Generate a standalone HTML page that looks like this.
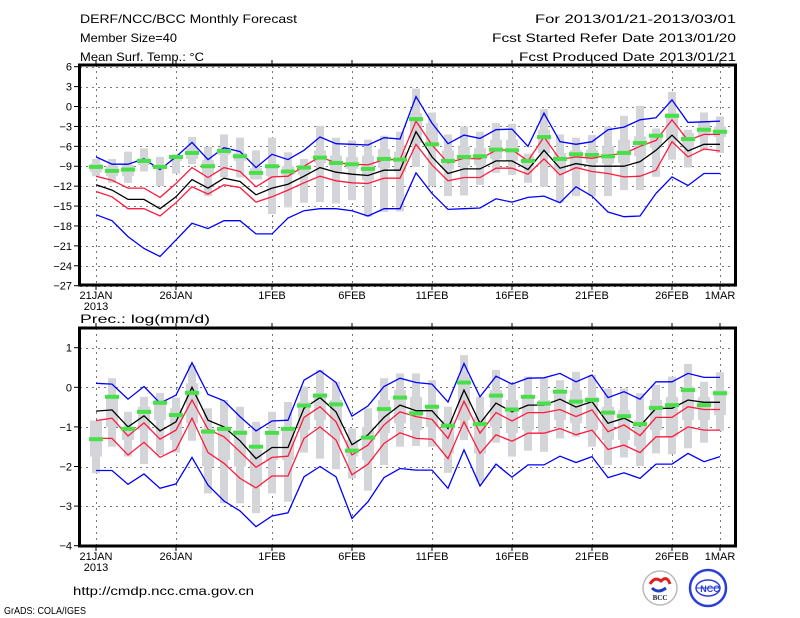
<!DOCTYPE html>
<html><head><meta charset="utf-8">
<style>
html,body{margin:0;padding:0;background:#fff;}
svg{display:block;font-family:"Liberation Sans",sans-serif;}
</style></head>
<body>
<svg id="chart" width="800" height="618" viewBox="0 0 800 618" xmlns="http://www.w3.org/2000/svg">
  <g id="header" font-size="12" fill="#000">
    <text x="80" y="23" textLength="217" lengthAdjust="spacingAndGlyphs">DERF/NCC/BCC Monthly Forecast</text>
    <text x="80" y="42" textLength="97" lengthAdjust="spacingAndGlyphs">Member Size=40</text>
    <text x="80" y="61" textLength="124" lengthAdjust="spacingAndGlyphs">Mean Surf. Temp.: °C</text>
    <text x="535" y="23" textLength="201" lengthAdjust="spacingAndGlyphs">For 2013/01/21-2013/03/01</text>
    <text x="492" y="42" textLength="244" lengthAdjust="spacingAndGlyphs">Fcst Started Refer Date 2013/01/20</text>
    <text x="519" y="61" textLength="217" lengthAdjust="spacingAndGlyphs">Fcst Produced Date 2013/01/21</text>
    <text x="80" y="323" textLength="130" lengthAdjust="spacingAndGlyphs">Prec.: log(mm/d)</text>
    <text x="73" y="595" textLength="181" lengthAdjust="spacingAndGlyphs">http://cmdp.ncc.cma.gov.cn</text>
    <text x="4" y="614" font-size="10" textLength="82" lengthAdjust="spacingAndGlyphs">GrADS: COLA/IGES</text>
  </g>
  <g id="panels"></g>
  <g id="logos">
    <g>
      <circle cx="660" cy="588" r="17" fill="#fff" stroke="#bbb" stroke-width="1.5"/>
      <path d="M650 584 q5 -8 11 -3 q6 -6 9 3" fill="none" stroke="#e02020" stroke-width="3"/>
      <path d="M652 588 q6 6 14 0" fill="none" stroke="#2040c0" stroke-width="3"/>
      <text x="660" y="600" font-size="7" text-anchor="middle" font-family="Liberation Serif,serif" font-weight="bold" fill="#223">BCC</text>
    </g>
    <g>
      <circle cx="708" cy="588" r="18" fill="#fff" stroke="#2a3ed8" stroke-width="2.5"/>
      <ellipse cx="708" cy="588" rx="12" ry="8" fill="none" stroke="#2a3ed8" stroke-width="1.5"/>
      <line x1="696" y1="588" x2="720" y2="588" stroke="#2a3ed8"/>
      <text x="710" y="592" font-size="9" text-anchor="middle" font-weight="bold" fill="#2a3ed8">NCC</text>
    </g>
  </g>
</svg>
<script>
// ---------- shared x data ----------
const dayLabels = ["21JAN","26JAN","1FEB","6FEB","11FEB","16FEB","21FEB","26FEB","1MAR"];
const dayLabelIdx = [0,5,11,16,21,26,31,36,39];

// ---------- temperature panel data ----------
const tempTicks = [6,3,0,-3,-6,-9,-12,-15,-18,-21,-24,-27];
const tempMax = [-7.6,-8.7,-8.7,-7.9,-9.5,-7.6,-5.4,-8.0,-6.2,-6.8,-9.2,-7.2,-8.0,-6.6,-4.6,-5.6,-5.7,-5.8,-4.7,-4.9,1.5,-2.5,-5.6,-4.3,-4.8,-3.5,-3.4,-6.0,-1.0,-5.3,-5.7,-5.3,-3.5,-3.1,-2.0,-1.7,1.0,-2.4,-2.3,-2.2];
const tempUpper = [-10.5,-11.1,-12.3,-12.3,-13.7,-11.6,-9.2,-10.7,-9.2,-9.8,-12.1,-10.6,-10.5,-9.0,-7.6,-8.5,-8.7,-8.8,-8.0,-8.0,-2.2,-5.8,-8.5,-7.8,-7.9,-6.6,-6.5,-8.2,-4.6,-8.0,-7.6,-7.8,-7.3,-7.1,-6.0,-5.1,-2.0,-5.1,-4.2,-4.2];
const tempMean = [-11.8,-12.6,-14.0,-14.0,-15.4,-13.6,-11.0,-12.3,-10.8,-11.3,-13.3,-12.3,-11.7,-10.5,-9.2,-9.9,-10.2,-10.4,-9.6,-9.6,-3.8,-7.6,-10.1,-9.4,-9.4,-8.2,-8.2,-9.5,-6.6,-9.3,-8.6,-9.0,-9.0,-9.0,-8.3,-6.6,-4.3,-6.7,-5.7,-5.7];
const tempLower = [-12.8,-13.6,-15.4,-15.4,-16.5,-14.5,-12.1,-13.2,-11.8,-12.2,-14.4,-13.6,-12.6,-11.5,-10.5,-11.2,-11.5,-11.6,-10.8,-10.8,-5.7,-8.8,-11.2,-10.7,-10.7,-9.3,-9.3,-10.2,-7.9,-10.3,-9.2,-9.8,-10.1,-10.6,-10.5,-9.6,-5.3,-7.6,-6.4,-6.7];
const tempMin = [-16.3,-17.2,-19.6,-21.4,-22.6,-20.1,-17.6,-18.4,-17.2,-17.2,-19.2,-19.2,-16.8,-15.7,-15.4,-15.4,-15.7,-16.5,-15.4,-15.4,-10.0,-13.1,-15.5,-15.4,-15.3,-13.9,-14.4,-13.7,-13.5,-14.5,-12.1,-13.5,-15.9,-16.6,-16.5,-13.1,-10.6,-11.9,-10.1,-10.1];
const tempObs = [-9.1,-9.7,-9.5,-8.2,-9.1,-7.6,-7.0,-9.0,-6.7,-7.5,-10.0,-9.0,-9.8,-9.2,-7.7,-8.5,-8.7,-9.4,-7.9,-8.0,-1.9,-5.7,-8.2,-7.6,-7.5,-6.5,-6.6,-8.2,-4.6,-7.9,-7.2,-7.3,-7.5,-7.0,-5.5,-4.4,-1.4,-4.9,-3.5,-3.8];
const tempWhiskHi = [-7.9,-7.9,-6.8,-6.3,-7.6,-7.2,-4.6,-6.1,-4.2,-4.7,-6.6,-4.7,-6.9,-7.9,-2.9,-4.7,-5.1,-5.0,-4.4,-3.8,2.7,-0.9,-4.2,-3.0,-3.8,-2.5,-2.6,-7.1,-0.4,-4.2,-4.7,-4.3,-3.0,-1.4,0.1,-3.3,2.2,-3.5,-0.9,-1.5];
const tempWhiskLo = [-10.5,-11.5,-11.5,-9.8,-12.0,-10.1,-8.7,-13.5,-10.7,-10.7,-10.3,-16.2,-15.2,-14.5,-14.4,-14.6,-14.1,-16.6,-15.9,-15.8,-9.1,-12.0,-13.5,-13.4,-11.8,-10.0,-10.3,-11.5,-12.1,-14.5,-13.5,-13.5,-13.5,-12.6,-12.6,-10.6,-8.0,-9.2,-6.6,-7.0];
const tempBoxHi = [-8.6,-9.0,-8.8,-7.8,-8.8,-7.5,-6.3,-8.1,-6.2,-7.0,-9.3,-8.8,-9.0,-8.8,-6.6,-7.4,-7.6,-7.4,-6.4,-6.8,-1.0,-2.5,-6.6,-6.0,-6.3,-5.0,-5.0,-7.5,-3.5,-7.0,-6.6,-6.5,-6.0,-5.0,-4.5,-4.5,-1.0,-4.0,-2.3,-3.0];
const tempBoxLo = [-9.9,-10.5,-10.5,-8.8,-9.4,-8.2,-7.9,-10.3,-7.3,-8.2,-11.0,-10.5,-10.3,-10.3,-8.5,-9.8,-9.4,-11.1,-9.3,-9.8,-5.5,-6.0,-9.5,-8.9,-8.8,-7.9,-8.2,-9.1,-7.0,-9.8,-9.5,-8.5,-8.6,-8.5,-7.5,-6.2,-5.0,-6.2,-4.5,-4.6];

// ---------- precipitation panel data ----------
const precTicks = [1,0,-1,-2,-3,-4];
const precMax = [0.1,0.08,-0.3,0.02,-0.4,-0.2,0.62,-0.18,-0.34,-0.74,-1.1,-0.85,-0.83,0.18,0.42,0.12,-0.73,-0.47,0.02,0.23,0.12,0.08,-0.37,0.6,-0.24,0.28,0.08,0.23,0.24,0.35,0.14,0.31,-0.26,-0.11,-0.3,0.14,0.14,0.35,0.25,0.25];
const precUpper = [-0.84,-0.78,-1.23,-0.9,-1.31,-1.08,-0.32,-1.06,-1.25,-1.63,-2.02,-1.77,-1.74,-0.76,-0.49,-0.87,-1.71,-1.46,-0.95,-0.62,-0.74,-0.81,-1.29,-0.35,-1.16,-0.64,-0.85,-0.64,-0.64,-0.56,-0.74,-0.57,-1.12,-0.95,-1.22,-0.76,-0.76,-0.49,-0.56,-0.56];
const precMean = [-0.6,-0.57,-1.0,-0.72,-1.1,-0.87,0.0,-0.83,-1.0,-1.35,-1.8,-1.52,-1.52,-0.53,-0.26,-0.62,-1.45,-1.2,-0.76,-0.45,-0.59,-0.59,-1.04,-0.07,-0.91,-0.4,-0.62,-0.45,-0.45,-0.3,-0.5,-0.36,-0.91,-0.78,-0.98,-0.53,-0.53,-0.32,-0.38,-0.38];
const precLower = [-1.29,-1.29,-1.71,-1.39,-1.77,-1.57,-0.78,-1.65,-1.92,-2.3,-2.54,-2.24,-2.24,-1.29,-1.0,-1.33,-2.21,-1.94,-1.42,-1.15,-1.29,-1.31,-1.8,-0.87,-1.67,-1.2,-1.36,-1.16,-1.16,-1.04,-1.2,-1.08,-1.57,-1.46,-1.65,-1.25,-1.25,-1.0,-1.08,-1.08];
const precMin = [-2.1,-2.1,-2.45,-2.19,-2.55,-2.44,-1.77,-2.47,-2.87,-3.12,-3.52,-3.25,-3.17,-2.26,-2.0,-2.26,-3.31,-2.89,-2.28,-2.05,-2.09,-2.09,-2.55,-1.58,-2.49,-1.94,-2.27,-1.96,-1.96,-1.74,-1.9,-1.75,-2.28,-2.16,-2.3,-1.94,-1.94,-1.67,-1.88,-1.75];
const precObs = [-1.31,-0.24,-1.05,-0.62,-0.39,-0.7,-0.14,-1.12,-1.05,-1.15,-1.5,-1.15,-1.05,-0.46,-0.21,-0.43,-1.6,-1.27,-0.55,-0.26,-0.66,-0.49,-0.97,0.12,-0.93,-0.21,-0.56,-0.24,-0.41,-0.11,-0.36,-0.32,-0.64,-0.73,-0.93,-0.52,-0.45,-0.07,-0.45,-0.15];
const precWhiskHi = [-0.84,0.23,-0.62,-0.24,-0.14,-0.26,0.56,-0.53,-0.32,-0.49,-0.87,-0.62,-0.37,0.02,0.44,0.14,-1.04,-0.53,0.23,0.35,0.35,0.18,-0.49,0.81,-0.24,0.44,0.1,0.27,0.23,0.18,0.39,0.31,-0.03,-0.03,-0.15,0.06,0.27,0.59,0.14,0.38];
const precWhiskLo = [-2.17,-1.5,-1.75,-1.94,-1.71,-1.65,-1.35,-2.68,-2.93,-2.93,-3.18,-2.68,-2.89,-1.65,-1.8,-2.07,-2.3,-2.61,-1.96,-1.5,-1.48,-1.5,-2.16,-1.33,-2.38,-1.4,-1.75,-1.6,-1.63,-1.29,-1.25,-1.5,-1.96,-1.77,-1.99,-1.67,-1.69,-1.54,-1.4,-1.1];
const precBoxHi = [-0.84,-0.24,-1.0,-0.49,-0.32,-0.53,0.1,-1.04,-1.04,-1.08,-1.58,-1.12,-1.04,-0.36,-0.15,-0.32,-1.33,-1.0,-0.32,-0.07,-0.24,-0.49,-0.83,0.27,-0.74,-0.07,-0.32,-0.24,-0.32,-0.07,-0.07,-0.24,-0.49,-0.57,-0.83,-0.32,-0.24,0.02,-0.24,-0.07];
const precBoxLo = [-1.75,-1.0,-1.33,-1.08,-0.83,-1.33,-0.91,-2.0,-1.84,-2.0,-2.51,-1.84,-1.84,-1.08,-0.83,-1.2,-1.75,-1.84,-1.16,-0.91,-1.08,-1.0,-1.67,-0.83,-1.67,-1.0,-1.16,-1.08,-1.16,-0.83,-0.91,-1.08,-1.33,-1.33,-1.49,-1.08,-1.25,-0.83,-0.83,-0.7];

const NS = "http://www.w3.org/2000/svg";
const panelsG = document.getElementById("panels");
const X0 = 96, DX = 16, LEFT = 80, RIGHT = 735;
function xScale(i){ return X0 + i*DX; }

function mk(tag, attrs, parent){
  const e = document.createElementNS(NS, tag);
  for (const k in attrs) e.setAttribute(k, attrs[k]);
  parent.appendChild(e);
  return e;
}

function drawPanel(cfg){
  const g = mk("g", {}, panelsG);
  
  
  const y = v => cfg.yTop + (cfg.vTop - v) * cfg.pxPerUnit;
  const grid = mk("g", {stroke:"#777","stroke-width":"1","stroke-dasharray":"2,4"}, g);
  
  
  cfg.ticks.forEach(t => {
    const yy = Math.round(y(t)) + 0.5;
    mk("line", {x1:LEFT, x2:RIGHT, y1:yy, y2:yy}, grid);
  });
  dayLabelIdx.forEach(i => {
    const xx = Math.round(xScale(i)) + 0.5;
    mk("line", {x1:xx, x2:xx, y1:cfg.boxTop, y2:cfg.boxBottom}, grid);
  });
  const boxes = mk("g", {fill:"#d4d5d9"}, g);
  
  
  for (let i = 0; i < cfg.whiskHi.length; i++){
    const cx = xScale(i);
    const w = mk("rect", {x:cx-4, width:8, y:y(cfg.whiskHi[i]), height:Math.max(1, y(cfg.whiskLo[i]) - y(cfg.whiskHi[i]))}, boxes);
    
    
    const b = mk("rect", {x:cx-6, width:12, y:y(cfg.boxHi[i]), height:Math.max(1, y(cfg.boxLo[i]) - y(cfg.boxHi[i]))}, boxes);
    
    
  }
  const series = [
    [cfg.max, "#0000ff", "max-line"],
    [cfg.min, "#0000ff", "min-line"],
    [cfg.upper, "#ff1a3c", "upper-line"],
    [cfg.lower, "#ff1a3c", "lower-line"],
    [cfg.mean, "#000000", "mean-line"]
  ];
  series.forEach(s => {
    const pts = s[0].map((v,i) => xScale(i).toFixed(1) + "," + y(v).toFixed(1)).join(" ");
    const pl = mk("polyline", {points:pts, fill:"none", stroke:s[1], "stroke-width":"1.3"}, g);
    
    
  });
  const obs = mk("g", {fill:"#48e048"}, g);
  
  
  cfg.obs.forEach((v,i) => {
    const r = mk("rect", {x:xScale(i)-7, width:14, y:y(v)-2, height:4}, obs);
    
    
  });
  const fr = mk("rect", {x:LEFT-0.5, y:cfg.boxTop, width:RIGHT-LEFT+1, height:cfg.boxBottom-cfg.boxTop, fill:"none", stroke:"#000", "stroke-width":"3"}, g);
  
  
  const yl = mk("g", {"font-size":"11", fill:"#000", "text-anchor":"end"}, g);
  
  
  cfg.ticks.forEach(t => {
    const yy = y(t);
    mk("line", {x1:LEFT-6, x2:LEFT, y1:yy, y2:yy, stroke:"#000"}, yl);
    const tx = mk("text", {x:LEFT-8, y:yy+4}, yl);
    tx.textContent = t < 0 ? "\u2212" + Math.abs(t) : String(t);
    
    
  });
  const xl = mk("g", {"font-size":"11", fill:"#000", "text-anchor":"middle"}, g);
  
  
  dayLabelIdx.forEach((i,k) => {
    const xx = xScale(i);
    mk("line", {x1:xx, x2:xx, y1:cfg.boxBottom, y2:cfg.boxBottom+5, stroke:"#000"}, xl);
    mk("line", {x1:xx, x2:xx, y1:cfg.boxTop-5, y2:cfg.boxTop, stroke:"#000"}, xl);
    const tx = mk("text", {x:xx, y:cfg.boxBottom+14}, xl);
    tx.textContent = dayLabels[k];
    
    
  });
  const yr = mk("text", {x:xScale(0), y:cfg.boxBottom+25}, xl);
  yr.textContent = "2013";
  
  
}

drawPanel({name:"temperature-panel", yTop:66.7, vTop:6, pxPerUnit:6.636, boxTop:65, boxBottom:285,
  ticks:tempTicks, max:tempMax, upper:tempUpper, mean:tempMean, lower:tempLower, min:tempMin, obs:tempObs,
  whiskHi:tempWhiskHi, whiskLo:tempWhiskLo, boxHi:tempBoxHi, boxLo:tempBoxLo});
drawPanel({name:"precipitation-panel", yTop:347.7, vTop:1, pxPerUnit:39.6, boxTop:328, boxBottom:546,
  ticks:precTicks, max:precMax, upper:precUpper, mean:precMean, lower:precLower, min:precMin, obs:precObs,
  whiskHi:precWhiskHi, whiskLo:precWhiskLo, boxHi:precBoxHi, boxLo:precBoxLo});
</script>
</body></html>
